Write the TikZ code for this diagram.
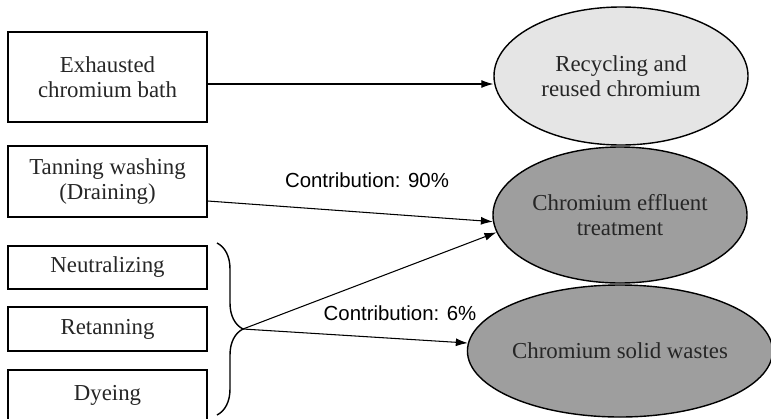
\documentclass[tikz,border=0pt]{standalone}
\usepackage{fontspec}
\setmainfont{Liberation Serif}
\newfontfamily\labelfont{Liberation Sans}
\usetikzlibrary{shapes.geometric,decorations.pathreplacing,arrows.meta}

\tikzset{
    stagebox/.style={draw,thick,rectangle,align=center,minimum width=3.98cm,
        text=black!85,font=\fontsize{13}{14.2}\selectfont},
    sink/.style={draw,thick,ellipse,align=center,inner sep=0pt,
        text=black!85,font=\fontsize{13}{14.2}\selectfont},
    flow/.style={-{Latex[length=0.24cm,width=0.16cm]},semithick},
    share/.style={font=\labelfont\fontsize{11.6}{13}\selectfont}
}

\begin{document}
\begin{tikzpicture}[x=1cm,y=1cm]
    \useasboundingbox (0,0) rectangle (15.42,8.36);

    % process stages
    \node[stagebox,minimum height=1.80cm] (bath) at (2.15,6.82)
        {Exhausted\\chromium bath};
    \node[stagebox,minimum height=1.42cm] (washing) at (2.15,4.73)
        {Tanning washing\\(Draining)};
    \node[stagebox,minimum height=0.86cm] (neutral) at (2.15,3.01)
        {Neutralizing};
    \node[stagebox,minimum height=0.88cm] (retan) at (2.15,1.78)
        {Retanning};
    \node[stagebox,minimum height=1.00cm] (dye) at (2.15,0.46)
        {Dyeing};

    % destinations
    \node[sink,fill=black!10,minimum width=5.08cm,minimum height=2.76cm]
        (recycle) at (12.42,6.84) {Recycling and\\reused chromium};
    \node[sink,fill=black!38,minimum width=5.08cm,minimum height=2.72cm]
        (effluent) at (12.40,4.06) {Chromium effluent\\treatment};
    \node[sink,fill=black!38,minimum width=5.96cm,minimum height=2.64cm]
        (solid) at (12.40,1.34) {Chromium solid wastes};

    % brace gathering the last three stages
    \coordinate (bracetop) at (4.34,3.50);
    \coordinate (bracebot) at (4.34,0.06);
    \coordinate (tip) at (4.86,1.78);
    \draw[thick,decorate,decoration={brace,amplitude=0.52cm}]
        (bracetop) -- (bracebot);

    % flows
    \draw[flow] ([yshift=-0.14cm]bath.east)
        -- ([yshift=-0.14cm]bath.east -| recycle.west);
    \draw[flow] ([yshift=-0.39cm]washing.east) -- (effluent.183);
    \draw[flow] (tip) -- (effluent.188);
    \draw[flow] (tip) -- (solid.177);

    \node[share] (share90) at (7.34,4.76) {Contribution: 90\%};
    \node[share] (share6) at (8.00,2.10) {Contribution: 6\%};
\end{tikzpicture}
\end{document}
